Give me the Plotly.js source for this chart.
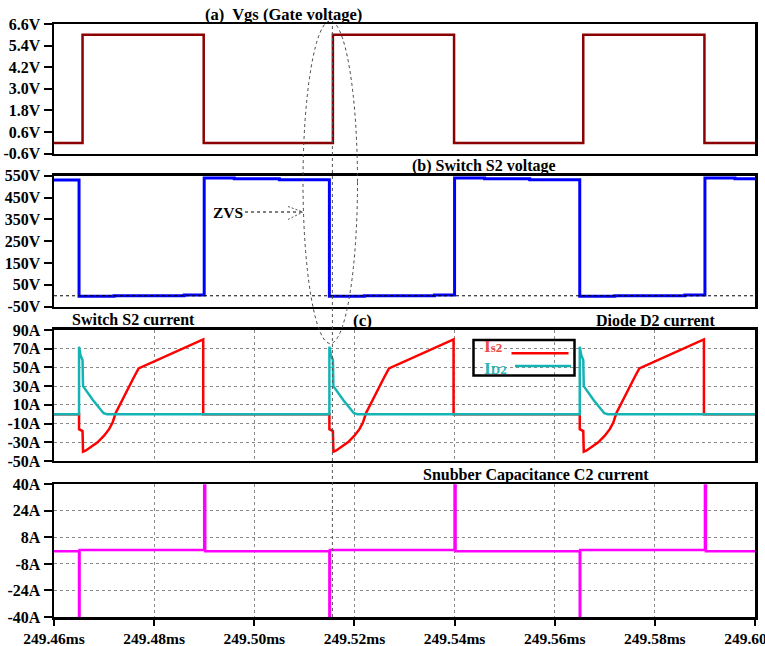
<!DOCTYPE html>
<html>
<head>
<meta charset="utf-8">
<script src="https://cdn.plot.ly/plotly-3.0.1.min.js"></script>
<style>html,body{margin:0;padding:0;background:#fff;}#chart{width:765px;height:646px;}</style>
</head>
<body>
<div id="chart"></div>
<script>
// ---- Data ----
const xRange = [249.46, 249.60];
const xTickVals = [249.46, 249.48, 249.50, 249.52, 249.54, 249.56, 249.58, 249.60];
const xTickText = ['249.46ms', '249.48ms', '249.50ms', '249.52ms', '249.54ms', '249.56ms', '249.58ms', '249.60ms'];

const vgsTickVals = [-0.6, 0.6, 1.8, 3.0, 4.2, 5.4, 6.6];
const vgsTickText = ['-0.6V', '0.6V', '1.8V', '3.0V', '4.2V', '5.4V', '6.6V'];
const vdsTickVals = [-50, 50, 150, 250, 350, 450, 550];
const vdsTickText = ['-50V', '50V', '150V', '250V', '350V', '450V', '550V'];
const iTickVals = [-50, -30, -10, 10, 30, 50, 70, 90];
const iTickText = ['-50A', '-30A', '-10A', '10A', '30A', '50A', '70A', '90A'];
const icTickVals = [-40, -24, -8, 8, 24, 40];
const icTickText = ['-40A', '-24A', '-8A', '8A', '24A', '40A'];

// (a) gate voltage (step changes)
const t_gate = [249.46, 249.4657, 249.4899, 249.5157, 249.5399, 249.5657, 249.5899, 249.60];
const v_gate = [0, 6, 0, 6, 0, 6, 0, 0];

// (b) switch S2 voltage (step changes)
const t_vds = [249.46, 249.465, 249.472, 249.486, 249.490, 249.496, 249.505, 249.515, 249.522, 249.536,
               249.540, 249.546, 249.555, 249.565, 249.572, 249.586, 249.590, 249.596, 249.60];
const v_vds = [531, -2, 0, 3, 540, 537, 532, -2, 0, 3, 540, 537, 532, -2, 0, 3, 540, 537, 537];

// (c) switch S2 current
const t_is2 = [249.4600, 249.4650, 249.4650, 249.4657, 249.4658, 249.4663, 249.4687, 249.4700, 249.4710, 249.4717, 249.4723, 249.4733, 249.4746, 249.4759, 249.4769, 249.4898, 249.4898,
               249.5150, 249.5150, 249.5157, 249.5158, 249.5163, 249.5187, 249.5200, 249.5210, 249.5217, 249.5223, 249.5233, 249.5246, 249.5259, 249.5269, 249.5398, 249.5398,
               249.5650, 249.5650, 249.5657, 249.5658, 249.5663, 249.5687, 249.5700, 249.5710, 249.5717, 249.5723, 249.5733, 249.5746, 249.5759, 249.5769, 249.5898, 249.5898, 249.6000];
const v_is2 = [0, 0, -16, -18, -40, -39, -30, -23, -16, -9, 1, 12, 26, 39, 49, 80, 0,
               0, -16, -18, -40, -39, -30, -23, -16, -9, 1, 12, 26, 39, 49, 80, 0,
               0, -16, -18, -40, -39, -30, -23, -16, -9, 1, 12, 26, 39, 49, 80, 0, 0];

// (c) diode D2 current
const t_id2 = [249.4600, 249.4650, 249.4650, 249.4653, 249.4657, 249.4658, 249.4678, 249.4699, 249.4706,
               249.5150, 249.5150, 249.5153, 249.5157, 249.5158, 249.5178, 249.5199, 249.5206,
               249.5650, 249.5650, 249.5653, 249.5657, 249.5658, 249.5678, 249.5699, 249.5706, 249.6000];
const v_id2 = [0, 0, 72, 63, 58, 30, 15, 1, 0,
               0, 72, 63, 58, 30, 15, 1, 0,
               0, 72, 63, 58, 30, 15, 1, 0, 0];

// (d) snubber capacitance C2 current
const t_ic2 = [249.4600, 249.4650, 249.4650, 249.4651, 249.4651, 249.4900, 249.4900, 249.4902, 249.4902,
               249.5150, 249.5150, 249.5151, 249.5151, 249.5400, 249.5400, 249.5402, 249.5402,
               249.5650, 249.5650, 249.5651, 249.5651, 249.5900, 249.5900, 249.5902, 249.5902, 249.6000];
const v_ic2 = [-0.4, -0.4, -60, -60, 0.4, 0.4, 60, 60, -0.4,
               -0.4, -60, -60, 0.4, 0.4, 60, 60, -0.4,
               -0.4, -60, -60, 0.4, 0.4, 60, 60, -0.4, -0.4];

const zvsTime = 249.5156;

// ---- Layout helpers ----
const L = 54, R = 755, T = 24, B = 617;
function px(x) { return (x - L) / (R - L); }
function py(y) { return (B - y) / (B - T); }

const FONT = 'Liberation Serif, Times New Roman, serif';
const xTickFont = {family: FONT, size: 15.5, color: '#000', weight: 700};
const yTickFont = {family: FONT, size: 16, color: '#000', weight: 700};
const GRID = {showgrid: true, gridcolor: '#8a8a8a', gridwidth: 1, griddash: '3px,3px'};

function xAxis(anchor, grid, labels) {
  return Object.assign({
    range: xRange, anchor: anchor, domain: [0, 1],
    tickmode: 'array', tickvals: xTickVals, ticktext: xTickText,
    showticklabels: labels, ticks: labels ? 'outside' : '', ticklen: 6, tickwidth: 2, tickcolor: '#000',
    showline: true, mirror: true, linewidth: 2.5, linecolor: '#000',
    zeroline: false, showgrid: false, tickfont: xTickFont, ticklabeloverflow: 'allow'
  }, grid ? GRID : {});
}
function yAxis(anchor, domain, range, vals, text, grid) {
  return Object.assign({
    domain: domain, range: range, anchor: anchor,
    tickmode: 'array', tickvals: vals, ticktext: text,
    ticks: 'outside', ticklen: 8, tickwidth: 2, tickcolor: '#000',
    showline: true, mirror: true, linewidth: 2.5, linecolor: '#000',
    zeroline: false, showgrid: false, tickfont: yTickFont
  }, grid ? GRID : {});
}

const traces = [
  {x: t_gate, y: v_gate, xaxis: 'x', yaxis: 'y', mode: 'lines', line: {color: '#8b0000', width: 2.5, shape: 'hv'}},
  {x: t_vds, y: v_vds, xaxis: 'x2', yaxis: 'y2', mode: 'lines', line: {color: '#0000ff', width: 3, shape: 'hv'}},
  {x: t_is2, y: v_is2, xaxis: 'x3', yaxis: 'y3', mode: 'lines', line: {color: '#ff0000', width: 2.5}},
  {x: t_id2, y: v_id2, xaxis: 'x3', yaxis: 'y3', mode: 'lines', line: {color: '#14b4b4', width: 2.5}},
  {x: t_ic2, y: v_ic2, xaxis: 'x4', yaxis: 'y4', mode: 'lines', line: {color: '#ff00ff', width: 2.5}}
];

const titleFont = {family: FONT, size: 16, color: '#000', weight: 700};
function ann(text, x, y, extra) {
  return Object.assign({text: text, x: px(x), y: py(y), xref: 'paper', yref: 'paper',
    xanchor: 'center', yanchor: 'middle', showarrow: false, font: titleFont}, extra || {});
}

const layout = {
  width: 765, height: 646,
  margin: {l: L, r: 765 - R, t: T, b: 646 - B},
  paper_bgcolor: '#fff', plot_bgcolor: '#fff',
  showlegend: false,
  xaxis: xAxis('y', false, false),
  xaxis2: xAxis('y2', false, false),
  xaxis3: xAxis('y3', true, false),
  xaxis4: xAxis('y4', true, true),
  yaxis: yAxis('x', [0.7813, 1], [-0.6, 6.6], vgsTickVals, vgsTickText, false),
  yaxis2: yAxis('x2', [0.5233, 0.7440], [-50, 550], vdsTickVals, vdsTickText, false),
  yaxis3: yAxis('x3', [0.2631, 0.4840], [-50, 90], iTickVals, iTickText, true),
  yaxis4: yAxis('x4', [0, 0.2238], [-40, 40], icTickVals, icTickText, true),
  annotations: [
    ann('(a)\u00a0 Vgs (Gate voltage)', 283, 14, {font: Object.assign({}, titleFont, {size: 16.5})}),
    ann('(b) Switch S2 voltage', 483.5, 166),
    ann('Switch S2 current', 133, 319.5),
    ann('(c)', 362, 320, {font: Object.assign({}, titleFont, {size: 17})}),
    ann('Diode D2 current', 655.5, 320.5),
    ann('Snubber Capacitance C2 current', 536, 475),
    ann('ZVS', 228, 212, {font: Object.assign({}, titleFont, {size: 15.5})}),
    ann('I<span style="font-size:13px">s2</span>', 483, 356.5, {xanchor: 'left', yanchor: 'bottom', borderpad: 0,
        font: {family: FONT, size: 17.5, color: '#f04848', weight: 700}}),
    ann('I<span style="font-size:13px">D2</span>', 483, 356.5, {xanchor: 'left', yanchor: 'top', borderpad: 0,
        font: {family: FONT, size: 17.5, color: '#30b4b4', weight: 700}})
  ],
  shapes: [
    // 0 V reference in (b)
    {type: 'line', xref: 'x2 domain', yref: 'y2', x0: 0, x1: 1, y0: 0, y1: 0,
     line: {color: '#000', width: 1, dash: '3px,3px'}},
    // vertical marker at gate turn-on
    {type: 'line', xref: 'x4', yref: 'paper', x0: zvsTime, x1: zvsTime, y0: 0, y1: 1,
     line: {color: '#555', width: 1, dash: '3px,3px'}},
    // ellipse
    {type: 'circle', xref: 'paper', yref: 'paper', x0: px(303), x1: px(357.5), y0: py(343.5), y1: py(21),
     line: {color: '#444', width: 1, dash: '3px,3px'}},
    // ZVS arrow
    {type: 'line', xref: 'paper', yref: 'paper', x0: px(245), x1: px(302), y0: py(212), y1: py(212),
     line: {color: '#000', width: 1, dash: '3px,3px'}},
    {type: 'line', xref: 'paper', yref: 'paper', x0: px(288), x1: px(303), y0: py(206.5), y1: py(212),
     line: {color: '#555', width: 1, dash: '2px,2px'}},
    {type: 'line', xref: 'paper', yref: 'paper', x0: px(288), x1: px(303), y0: py(219.5), y1: py(212),
     line: {color: '#555', width: 1, dash: '2px,2px'}},
    // legend box
    {type: 'rect', xref: 'paper', yref: 'paper', x0: px(473.5), x1: px(574.5), y0: py(375.5), y1: py(340),
     line: {color: '#000', width: 2.5}},
    {type: 'line', xref: 'paper', yref: 'paper', x0: px(511.5), x1: px(568.5), y0: py(353.3), y1: py(353.3),
     line: {color: '#ff0000', width: 2.5}},
    {type: 'line', xref: 'paper', yref: 'paper', x0: px(515), x1: px(571), y0: py(366), y1: py(366),
     line: {color: '#14b4b4', width: 2.5}}
  ]
};

Plotly.newPlot('chart', traces, layout, {displayModeBar: false, staticPlot: true});
</script>
</body>
</html>
